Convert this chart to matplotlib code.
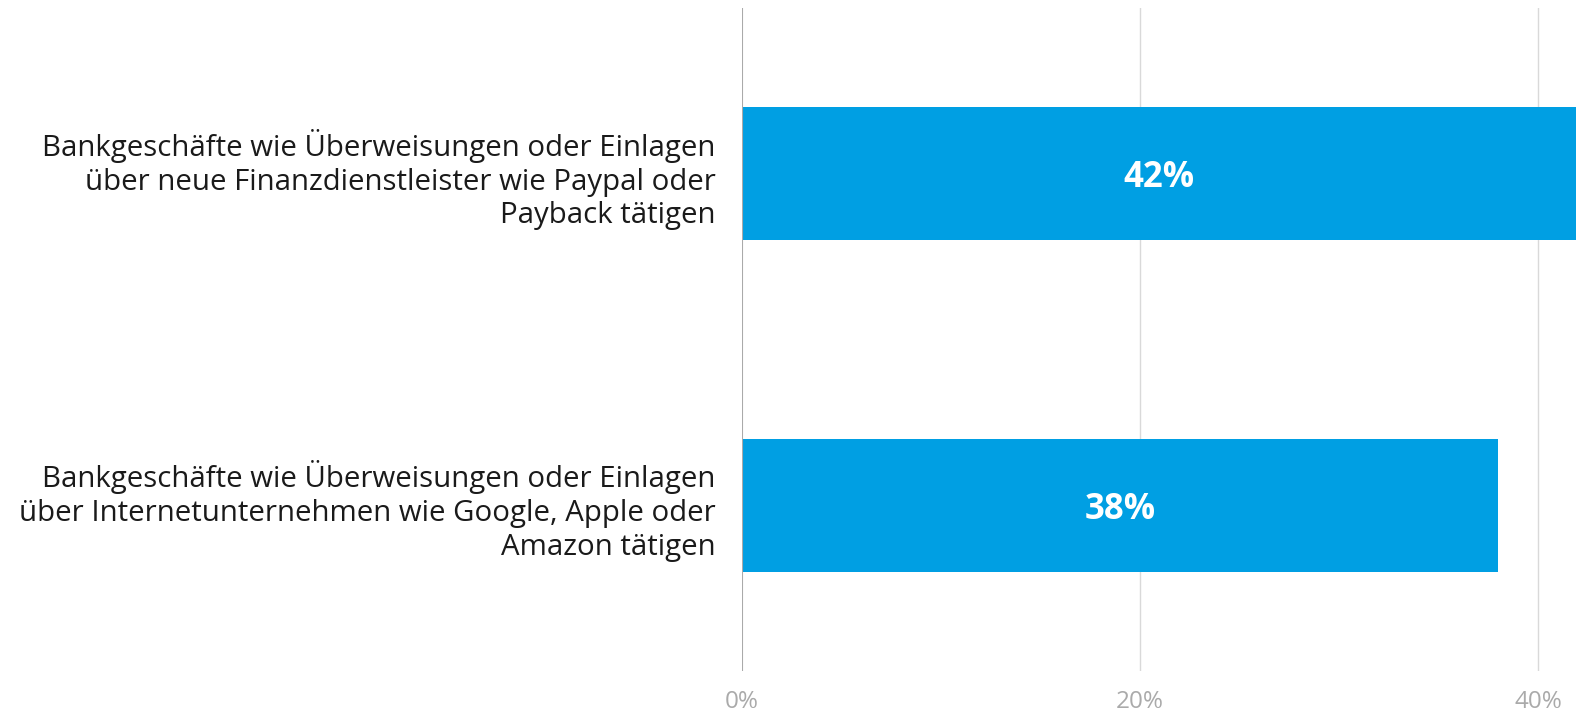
import matplotlib
matplotlib.use("Agg")
from matplotlib import pyplot as plt

categories = [
    "Bankgeschäfte wie Überweisungen oder Einlagen\nüber neue Finanzdienstleister wie Paypal oder\nPayback tätigen",
    "Bankgeschäfte wie Überweisungen oder Einlagen\nüber Internetunternehmen wie Google, Apple oder\nAmazon tätigen",
]
values = [42, 38]
ticks = [0, 20, 40]
tick_labels = ["0%", "20%", "40%"]

bar_color = "#009fe3"
xmax = 41.9

plt.rcParams['font.family'] = ['Open Sans', 'DejaVu Sans']

fig = plt.figure(figsize=(15.76, 7.16), dpi=100)
ax = fig.add_axes([0.4708, 0.0628, 0.5292, 0.9262])

ypos = list(range(len(values)))
ax.barh(ypos, values, height=0.4, color=bar_color, zorder=2)
ax.set_ylim(len(values) - 0.5, -0.5)
ax.set_xlim(0, xmax)

for y, v in zip(ypos, values):
    ax.text(min(v, xmax) / 2, y, f"{v}%", ha="center", va="center_baseline",
            color="white", fontsize=25, fontweight="bold", zorder=3)

ax.set_yticks(ypos)
ax.set_yticklabels(categories, fontsize=21.2, color="#1a1a1a", linespacing=1.22)
ax.tick_params(axis="y", length=0, pad=19)

ax.set_xticks(ticks)
ax.set_xticklabels(tick_labels, fontsize=17.5, color="#aaaaaa")
ax.tick_params(axis="x", length=0, pad=14)

for t in ticks[1:]:
    ax.axvline(t, color="#d9d9d9", lw=1, zorder=1)
ax.axvline(0, color="#aaaaaa", lw=1.5, zorder=3)

for s in ax.spines.values():
    s.set_visible(False)

fig.savefig("out.png", dpi=100)
